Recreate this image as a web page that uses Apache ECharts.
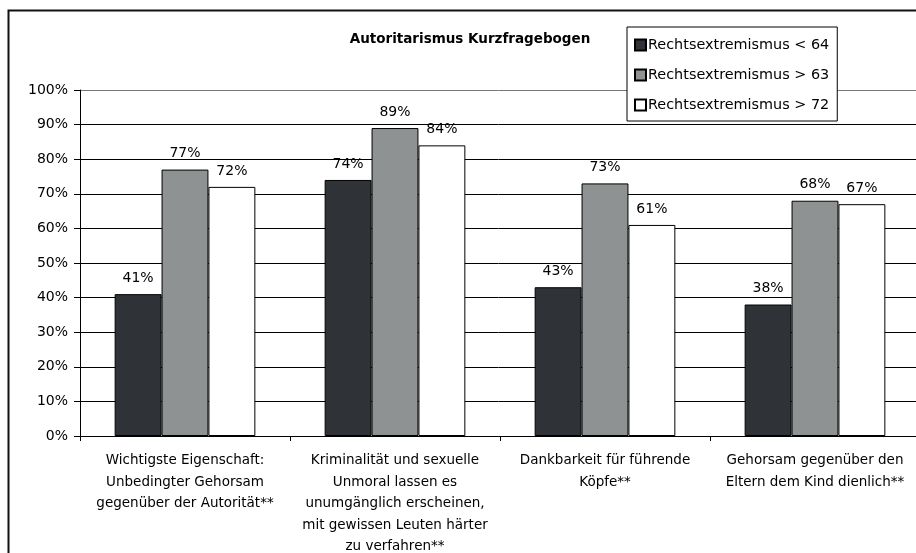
<!DOCTYPE html>
<html>
<head>
<meta charset="utf-8">
<script src="https://cdn.jsdelivr.net/npm/echarts@6/dist/echarts.min.js"></script>
<style>
  html, body { margin: 0; padding: 0; background: #fff; }
  #chart { width: 916px; height: 553px; }
</style>
</head>
<body>
<div id="chart"></div>
<script>
// Data
const categories = [
  'Wichtigste Eigenschaft:\nUnbedingter Gehorsam\ngegenüber der Autorität**',
  'Kriminalität und sexuelle\nUnmoral lassen es\nunumgänglich erscheinen,\nmit gewissen Leuten härter\nzu verfahren**',
  'Dankbarkeit für führende\nKöpfe**',
  'Gehorsam gegenüber den\nEltern dem Kind dienlich**'
];
const seriesNames = ['Rechtsextremismus < 64', 'Rechtsextremismus > 63', 'Rechtsextremismus > 72'];
const below64 = [41, 74, 43, 38];
const above63 = [77, 89, 73, 68];
const above72 = [72, 84, 61, 67];

const COLORS = ['#2f3337', '#8e9292', '#ffffff'];
const FONT = 'DejaVu Sans, Verdana, sans-serif';

// gridlines black, the 100% one a bit lighter like the original
const GRID_COLORS = ['#000', '#000', '#000', '#000', '#000', '#000', '#000', '#000', '#000', '#000', '#777'];

const chart = echarts.init(document.getElementById('chart'));

const makeSeries = (name, data, idx) => ({
  name,
  type: 'bar',
  data,
  barGap: 0,
  barCategoryGap: '33%',
  itemStyle: { color: COLORS[idx], borderColor: '#000', borderWidth: 1 },
  label: {
    show: true,
    position: 'top',
    distance: 9,
    formatter: '{c}%',
    color: '#000',
    fontSize: 14,
    fontFamily: FONT
  }
});

chart.setOption({
  backgroundColor: '#fff',
  animation: false,
  title: {
    text: 'Autoritarismus Kurzfragebogen',
    left: 465,
    top: 27,
    textAlign: 'center',
    textStyle: { fontSize: 13.5, fontWeight: 'bold', color: '#000', fontFamily: FONT }
  },
  legend: {
    orient: 'vertical',
    left: 627,
    top: 27,
    width: 214,
    padding: [11, 8, 9, 7],
    itemGap: 16,
    itemWidth: 11,
    itemHeight: 11,
    icon: 'rect',
    borderColor: '#000',
    borderWidth: 1,
    backgroundColor: '#fff',
    textStyle: { fontSize: 14.4, color: '#000', fontFamily: FONT, padding: [0, 0, 0, -3] },
    data: seriesNames
  },
  graphic: [{
    type: 'rect',
    shape: { x: 8.5, y: 10.5, width: 920, height: 560 },
    style: { fill: 'none', stroke: '#111', lineWidth: 2 },
    silent: true,
    z: -1
  }],
  grid: { left: 80, right: -4, top: 90, bottom: 117, outerBoundsMode: 'none', containLabel: false },
  xAxis: {
    type: 'category',
    data: categories,
    axisLine: { lineStyle: { color: '#000' } },
    axisTick: { show: true, length: 5, lineStyle: { color: '#000' } },
    axisLabel: {
      interval: 0,
      margin: 14,
      color: '#000',
      fontSize: 13.5,
      lineHeight: 21.5,
      fontFamily: FONT,
      align: 'center'
    }
  },
  yAxis: {
    type: 'value',
    min: 0,
    max: 100,
    interval: 10,
    axisLine: { show: true, lineStyle: { color: '#000' } },
    axisTick: { show: true, length: 6, lineStyle: { color: '#000' } },
    axisLabel: {
      formatter: '{value}%',
      color: '#000',
      fontSize: 14,
      margin: 12,
      fontFamily: FONT
    },
    splitLine: { lineStyle: { color: GRID_COLORS, width: 1 } }
  },
  series: [
    makeSeries(seriesNames[0], below64, 0),
    makeSeries(seriesNames[1], above63, 1),
    makeSeries(seriesNames[2], above72, 2)
  ]
});
</script>
</body>
</html>
